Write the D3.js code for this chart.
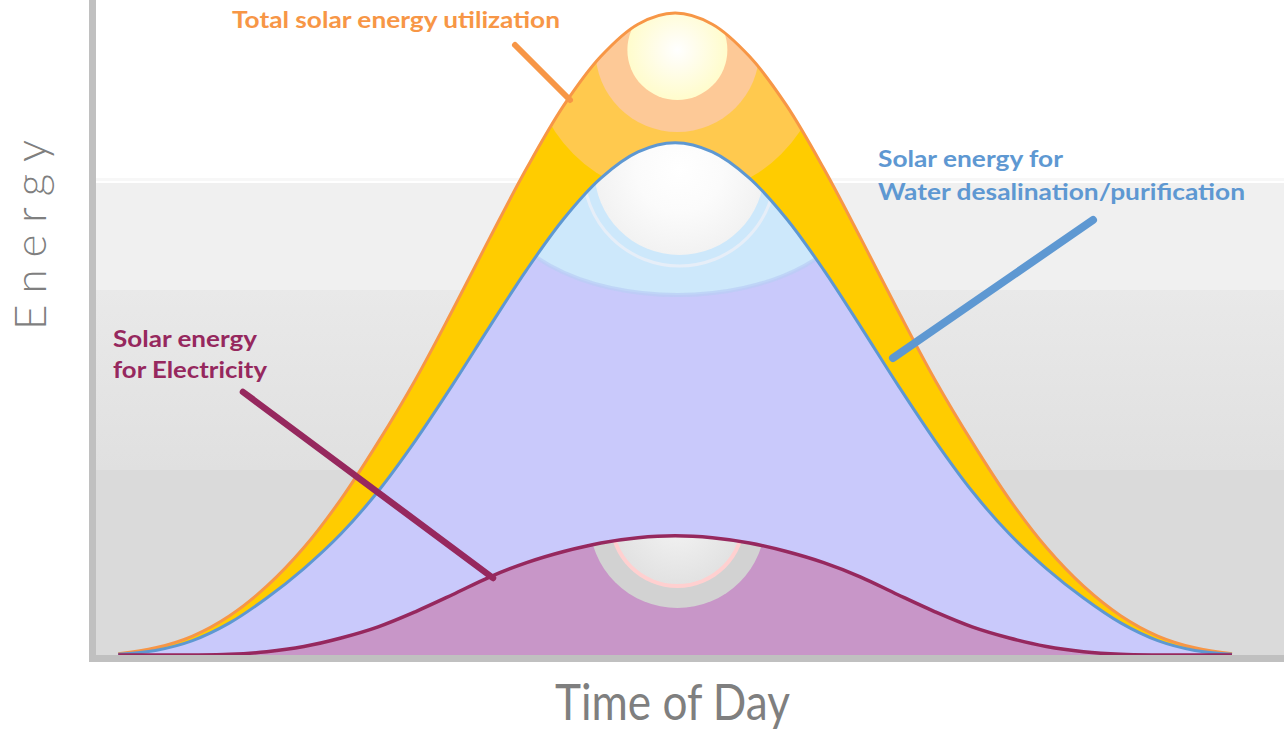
<!DOCTYPE html>
<html><head><meta charset="utf-8">
<script src="https://cdn.jsdelivr.net/npm/d3@7"></script>
<style>body{margin:0;background:#fff}svg{display:block}</style></head>
<body><svg id="c" width="1284" height="736"></svg>
<script>
// ---- data (energy in arbitrary units 0..100) ----
const hours = [4.5,5,5.5,6,6.5,7,7.5,8,8.5,9,9.5,10,10.5,11,11.5,12,12.5,13,13.5,14,14.5,15,15.5,16,16.5,17,17.5,18,18.5,19,19.5];
const totalSolar = [0.2,1.1,2.9,6.0,10.5,16.4,23.8,32.5,42,52.6,63.6,74.3,83.9,91.4,96.3,98,96.3,91.4,83.9,74.3,63.6,52.6,42,32.5,23.8,16.4,10.5,6.0,2.9,1.1,0.2];
const waterSolar = [0.1,0.7,2.2,4.9,8.7,13.2,18.5,25.0,32.7,41.2,50.1,58.8,66.6,72.8,76.8,78.2,76.8,72.8,66.6,58.8,50.1,41.2,32.7,25.0,18.5,13.2,8.7,4.9,2.2,0.7,0.1];
const elecSolar  = [0,0,0,0.1,0.5,1.3,2.6,4.3,6.6,9.2,11.9,14.1,15.8,17.1,17.9,18.2,17.9,17.1,15.8,14.1,11.9,9.2,6.6,4.3,2.6,1.3,0.5,0.1,0,0,0];
const seriesNames = ["Total solar energy utilization","Solar energy for Water desalination/purification","Solar energy for Electricity"];
const xTitle = "Time of Day";
const yTitle = "Energy";

// ---- layout ----
const W = 1284, H = 736;
const plot = {left: 96, right: 1284, top: 0, bottom: 655};
const x = d3.scaleLinear().domain([4.2, 20.2]).range([plot.left, plot.right]);
const y = d3.scaleLinear().domain([0, 100]).range([plot.bottom, plot.top]);
const svg = d3.select("#c");
const defs = svg.append("defs");

// background bands
const bg = defs.append("linearGradient").attr("id","band3").attr("x1",0).attr("y1",0).attr("x2",0).attr("y2",1);
bg.append("stop").attr("offset",0).attr("stop-color","#e9e9e9");
bg.append("stop").attr("offset",1).attr("stop-color","#e0e0e0");
const bands = [[0,183,"#ffffff"],[183,290,"#f0f0f0"],[290,470,"url(#band3)"],[470,655,"#dadada"]];
svg.selectAll("rect.band").data(bands).join("rect").attr("class","band")
  .attr("x",plot.left).attr("width",plot.right-plot.left)
  .attr("y",d=>d[0]).attr("height",d=>d[1]-d[0]).attr("fill",d=>d[2]);
svg.append("rect").attr("x",plot.left).attr("width",plot.right-plot.left).attr("y",178).attr("height",3).attr("fill","#f7f7f7");

const curve = d3.curveCatmullRom.alpha(0.5);
const area = vals => d3.area().x((d,i)=>x(hours[i])).y0(y(0)).y1((d,i)=>Math.min(y(vals[i]),y(0))).curve(curve)(vals);
const line = vals => d3.line().x((d,i)=>x(hours[i])).y((d,i)=>y(vals[i])).curve(curve)(vals);

function clip(id, vals){ defs.append("clipPath").attr("id",id).append("path").attr("d",area(vals)); }
clip("clipT", totalSolar); clip("clipW", waterSolar); clip("clipE", elecSolar);

function radial(id, stops){
  const g = defs.append("radialGradient").attr("id",id);
  stops.forEach(s=>g.append("stop").attr("offset",s[0]).attr("stop-color",s[1]));
}
radial("sunT", [[0,"#ffffff"],[0.3,"#fffdf0"],[1,"#fffccc"]]);
radial("sunW", [[0,"#ffffff"],[0.5,"#fbfbfb"],[1,"#f2f2f2"]]);
radial("sunE", [[0,"#f4f4f4"],[1,"#e2e2e2"]]);

const cx = x(12.03);

// Total area
svg.append("path").attr("d",area(totalSolar)).attr("fill","#ffcc00");
const gT = svg.append("g").attr("clip-path","url(#clipT)");
gT.append("circle").attr("cx",cx).attr("cy",50).attr("r",147).attr("fill","#ffc94e");
gT.append("circle").attr("cx",cx).attr("cy",50).attr("r",82).attr("fill","#fdc997");
gT.append("circle").attr("cx",cx).attr("cy",50).attr("r",50).attr("fill","url(#sunT)");
svg.append("path").attr("d",line(totalSolar)).attr("fill","none").attr("stroke","#f79646").attr("stroke-width",3);

// Water area
svg.append("path").attr("d",area(waterSolar)).attr("fill","#c9c9fb");
const gW = svg.append("g").attr("clip-path","url(#clipW)");
gW.append("ellipse").attr("cx",cx).attr("cy",195).attr("rx",180).attr("ry",100).attr("fill","#cde8fb");
gW.append("ellipse").attr("cx",cx).attr("cy",195).attr("rx",180).attr("ry",100).attr("fill","none").attr("stroke","#b9cdf5").attr("stroke-width",4).attr("opacity",0.7);
gW.append("circle").attr("cx",cx+2).attr("cy",170).attr("r",96).attr("fill","none").attr("stroke","#e6eef8").attr("stroke-width",3);
gW.append("circle").attr("cx",cx+2).attr("cy",170).attr("r",85).attr("fill","url(#sunW)");
svg.append("path").attr("d",line(waterSolar)).attr("fill","none").attr("stroke","#5e98d2").attr("stroke-width",3);

// Electricity area
svg.append("path").attr("d",area(elecSolar)).attr("fill","#c896c8");
const gE = svg.append("g").attr("clip-path","url(#clipE)");
gE.append("circle").attr("cx",cx).attr("cy",520).attr("r",88).attr("fill","#d2d2d2");
gE.append("circle").attr("cx",cx).attr("cy",520).attr("r",68).attr("fill","#ffd0d0");
gE.append("circle").attr("cx",cx).attr("cy",520).attr("r",64).attr("fill","url(#sunE)");
svg.append("path").attr("d",line(elecSolar)).attr("fill","none").attr("stroke","#96285e").attr("stroke-width",3.5);

// axes
svg.append("rect").attr("x",89).attr("y",0).attr("width",7).attr("height",662).attr("fill","#c0c0c0");
svg.append("rect").attr("x",89).attr("y",655).attr("width",W-89).attr("height",7).attr("fill","#c0c0c0");

// leader lines
const leaders = [
  {x1:515,y1:45,x2:570,y2:100,c:"#f79646",w:6},
  {x1:1093,y1:220,x2:893,y2:358,c:"#5e98d2",w:8},
  {x1:243,y1:392,x2:493,y2:578,c:"#96285e",w:6.5}
];
svg.selectAll("line.lead").data(leaders).join("line").attr("class","lead")
  .attr("x1",d=>d.x1).attr("y1",d=>d.y1).attr("x2",d=>d.x2).attr("y2",d=>d.y2)
  .attr("stroke",d=>d.c).attr("stroke-width",d=>d.w).attr("stroke-linecap","round");

// labels
const lab = (t,xx,yy,c,len)=>svg.append("text").attr("x",xx).attr("y",yy).attr("fill",c)
  .attr("font-family","Lato, 'Open Sans', sans-serif").attr("font-weight",700).attr("font-size",23)
  .attr("textLength",len).attr("lengthAdjust","spacingAndGlyphs").text(t);
lab("Total solar energy utilization",232,28,"#f79646",328);
lab("Solar energy for",878,167,"#5e98d2",185);
lab("Water desalination/purification",878,200,"#5e98d2",367);
lab("Solar energy",113,347,"#96285e",144);
lab("for Electricity",113,378,"#96285e",154);

// axis titles
svg.append("text").attr("x",555).attr("y",720).attr("fill","#7f7f7f")
  .attr("font-family","Lato, sans-serif").attr("font-weight",400).attr("font-size",50)
  .attr("textLength",235).attr("lengthAdjust","spacingAndGlyphs").text(xTitle);
svg.append("text").attr("transform","translate(46,330) rotate(-90)").attr("fill","#7f7f7f")
  .attr("font-family","Lato, sans-serif").attr("font-weight",300).attr("font-size",44)
  .attr("textLength",190).attr("lengthAdjust","spacing").text(yTitle);
</script></body></html>
